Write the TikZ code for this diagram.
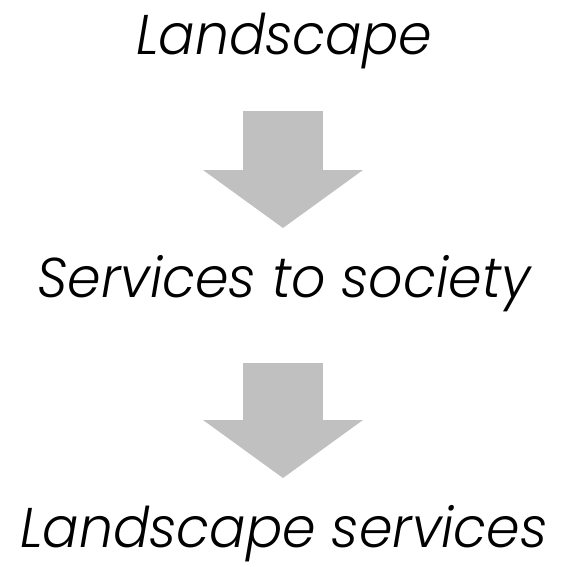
\documentclass[tikz,border=0pt]{standalone}
\usepackage{fontspec}
\setmainfont{Poppins}[UprightFont=* Light, ItalicFont=* Light Italic, FakeStretch=0.96]
\usetikzlibrary{arrows.meta,positioning}

\definecolor{arrowgray}{RGB}{192,192,192}

\begin{document}
\begin{tikzpicture}
        [x=1pt, y=-1pt,
         term/.style={font=\itshape\fontsize{56}{60}\selectfont, inner sep=0pt, anchor=base},
         flow/.style={draw=arrowgray, line width=80pt,
                -{Triangle[length=58pt 0 0, width=160pt 0 0, line width=0pt 0 0]}}]

        \useasboundingbox (0,0) rectangle (560,567);

        \node[term] (landscape) at (284,55) {Landscape};
        \node[term, below=242pt of landscape.base, anchor=base] (society) {Services to society};
        \node[term, below=250pt of society.base, anchor=base] (services) {Landscape services};

        \coordinate (top one) at (283,111);
        \coordinate (tip one) at (283,228);
        \coordinate (top two) at (283,363);
        \coordinate (tip two) at (283,478);

        \draw[flow] (top one) -- (tip one);
        \draw[flow] (top two) -- (tip two);
\end{tikzpicture}
\end{document}
